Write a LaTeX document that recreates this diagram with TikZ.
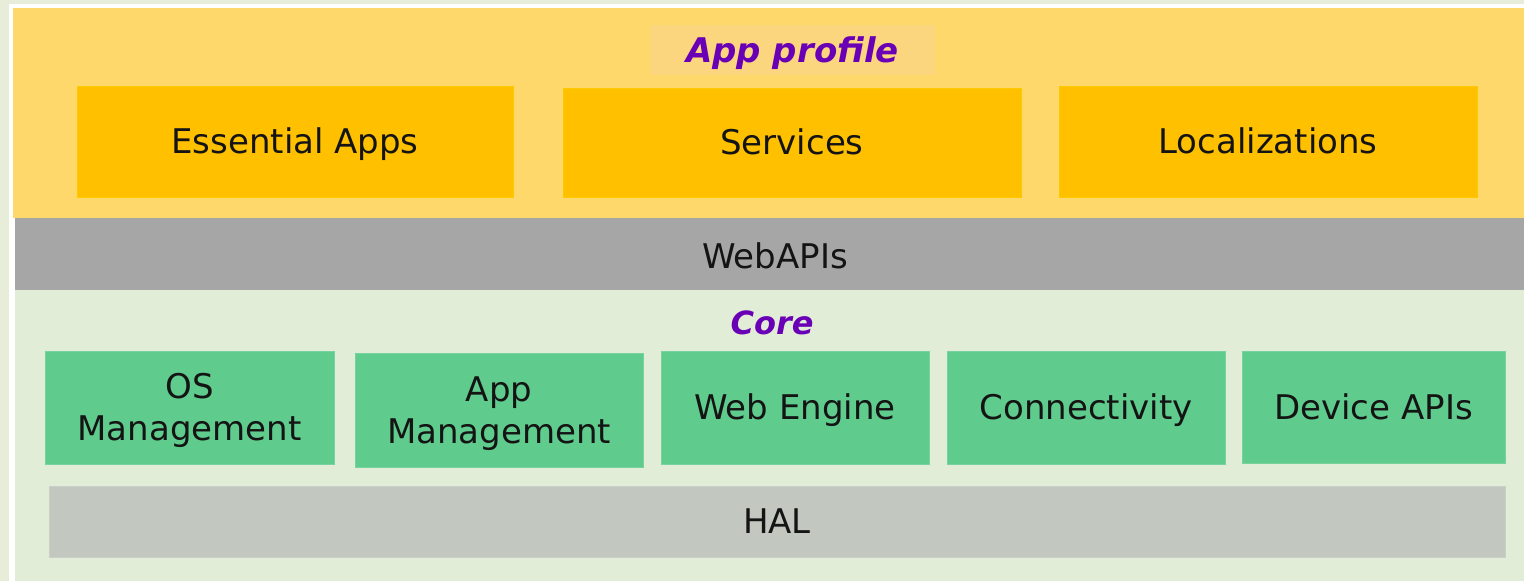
\documentclass[tikz,border=0pt]{standalone}
\usepackage{fontspec}
\setmainfont{DejaVu Sans}
\definecolor{outerbg}{HTML}{E8EDD9}
\definecolor{profilebg}{HTML}{FED86B}
\definecolor{profilebox}{HTML}{FFC000}
\definecolor{labelbg}{HTML}{FCD67F}
\definecolor{apibar}{HTML}{A6A6A6}
\definecolor{corebg}{HTML}{E2EDD7}
\definecolor{corebox}{HTML}{5FCB8C}
\definecolor{halbar}{HTML}{C2C7BF}
\definecolor{titlepurple}{HTML}{6A00B6}
\definecolor{textdark}{HTML}{141414}
\begin{document}
\begin{tikzpicture}[x=1pt,y=-1pt,
  every node/.style={inner sep=0pt, outer sep=0pt, anchor=north west, align=center,
    text=textdark, font=\fontsize{34}{42}\selectfont,
    text height=24.8pt, text depth=0pt},
  twoline/.style={text height=66.8pt, text depth=0pt},
  appbox/.style={fill=profilebox, draw=profilebox!85!yellow, line width=0.6pt},
  corecomp/.style={fill=corebox, draw=corebox!85!white, line width=0.6pt},
  layer/.style={fill=#1},
  heading/.style={text=titlepurple, font=\fontsize{#1}{#1}\selectfont\bfseries\itshape}
]
% page and frame
\fill[outerbg] (0,0) rectangle (1524,581);
\fill[white] (9,4) rectangle (1524,581);
\useasboundingbox (0,0) rectangle (1524,581);

% application layer
\node[layer=profilebg, minimum width=1511pt, minimum height=210pt] (profile) at (13,8) {};
\node[fill=labelbg, minimum width=285pt, minimum height=50pt] (profilelabel) at (650,25) {};
\node[heading=34, anchor=center] (profiletitle) at (profilelabel.center) {App profile};
\node[appbox, minimum width=436pt, minimum height=111pt] (essential) at (77,86) {Essential Apps};
\node[appbox, minimum width=458pt, minimum height=109pt] (services) at (563,88) {Services};
\node[appbox, minimum width=418pt, minimum height=111pt] (local) at (1059,86) {Localizations};

% web API layer
\node[layer=apibar, minimum width=1509pt, minimum height=72pt] (webapi) at (15,218) {};
\node[anchor=center] (webapitext) at (775,256) {WebAPIs};

% core layer
\node[layer=corebg, minimum width=1509pt, minimum height=291pt] (core) at (15,290) {};
\node[heading=32, anchor=center] (coretitle) at (772,322) {Core};
\node[corecomp, twoline, minimum width=289pt, minimum height=113pt] (osman) at (45,351) {OS\\Management};
\node[corecomp, twoline, minimum width=288pt, minimum height=114pt] (appman) at (355,353) {App\\Management};
\node[corecomp, minimum width=268pt, minimum height=113pt] (engine) at (661,351) {Web Engine};
\node[corecomp, minimum width=278pt, minimum height=113pt] (conn) at (947,351) {Connectivity};
\node[corecomp, minimum width=263pt, minimum height=112pt] (device) at (1242,351) {Device APIs};
\node[fill=halbar, draw=halbar!85!white, line width=0.6pt, minimum width=1456pt, minimum height=71pt] (hal) at (49,486) {HAL};
\end{tikzpicture}
\end{document}
